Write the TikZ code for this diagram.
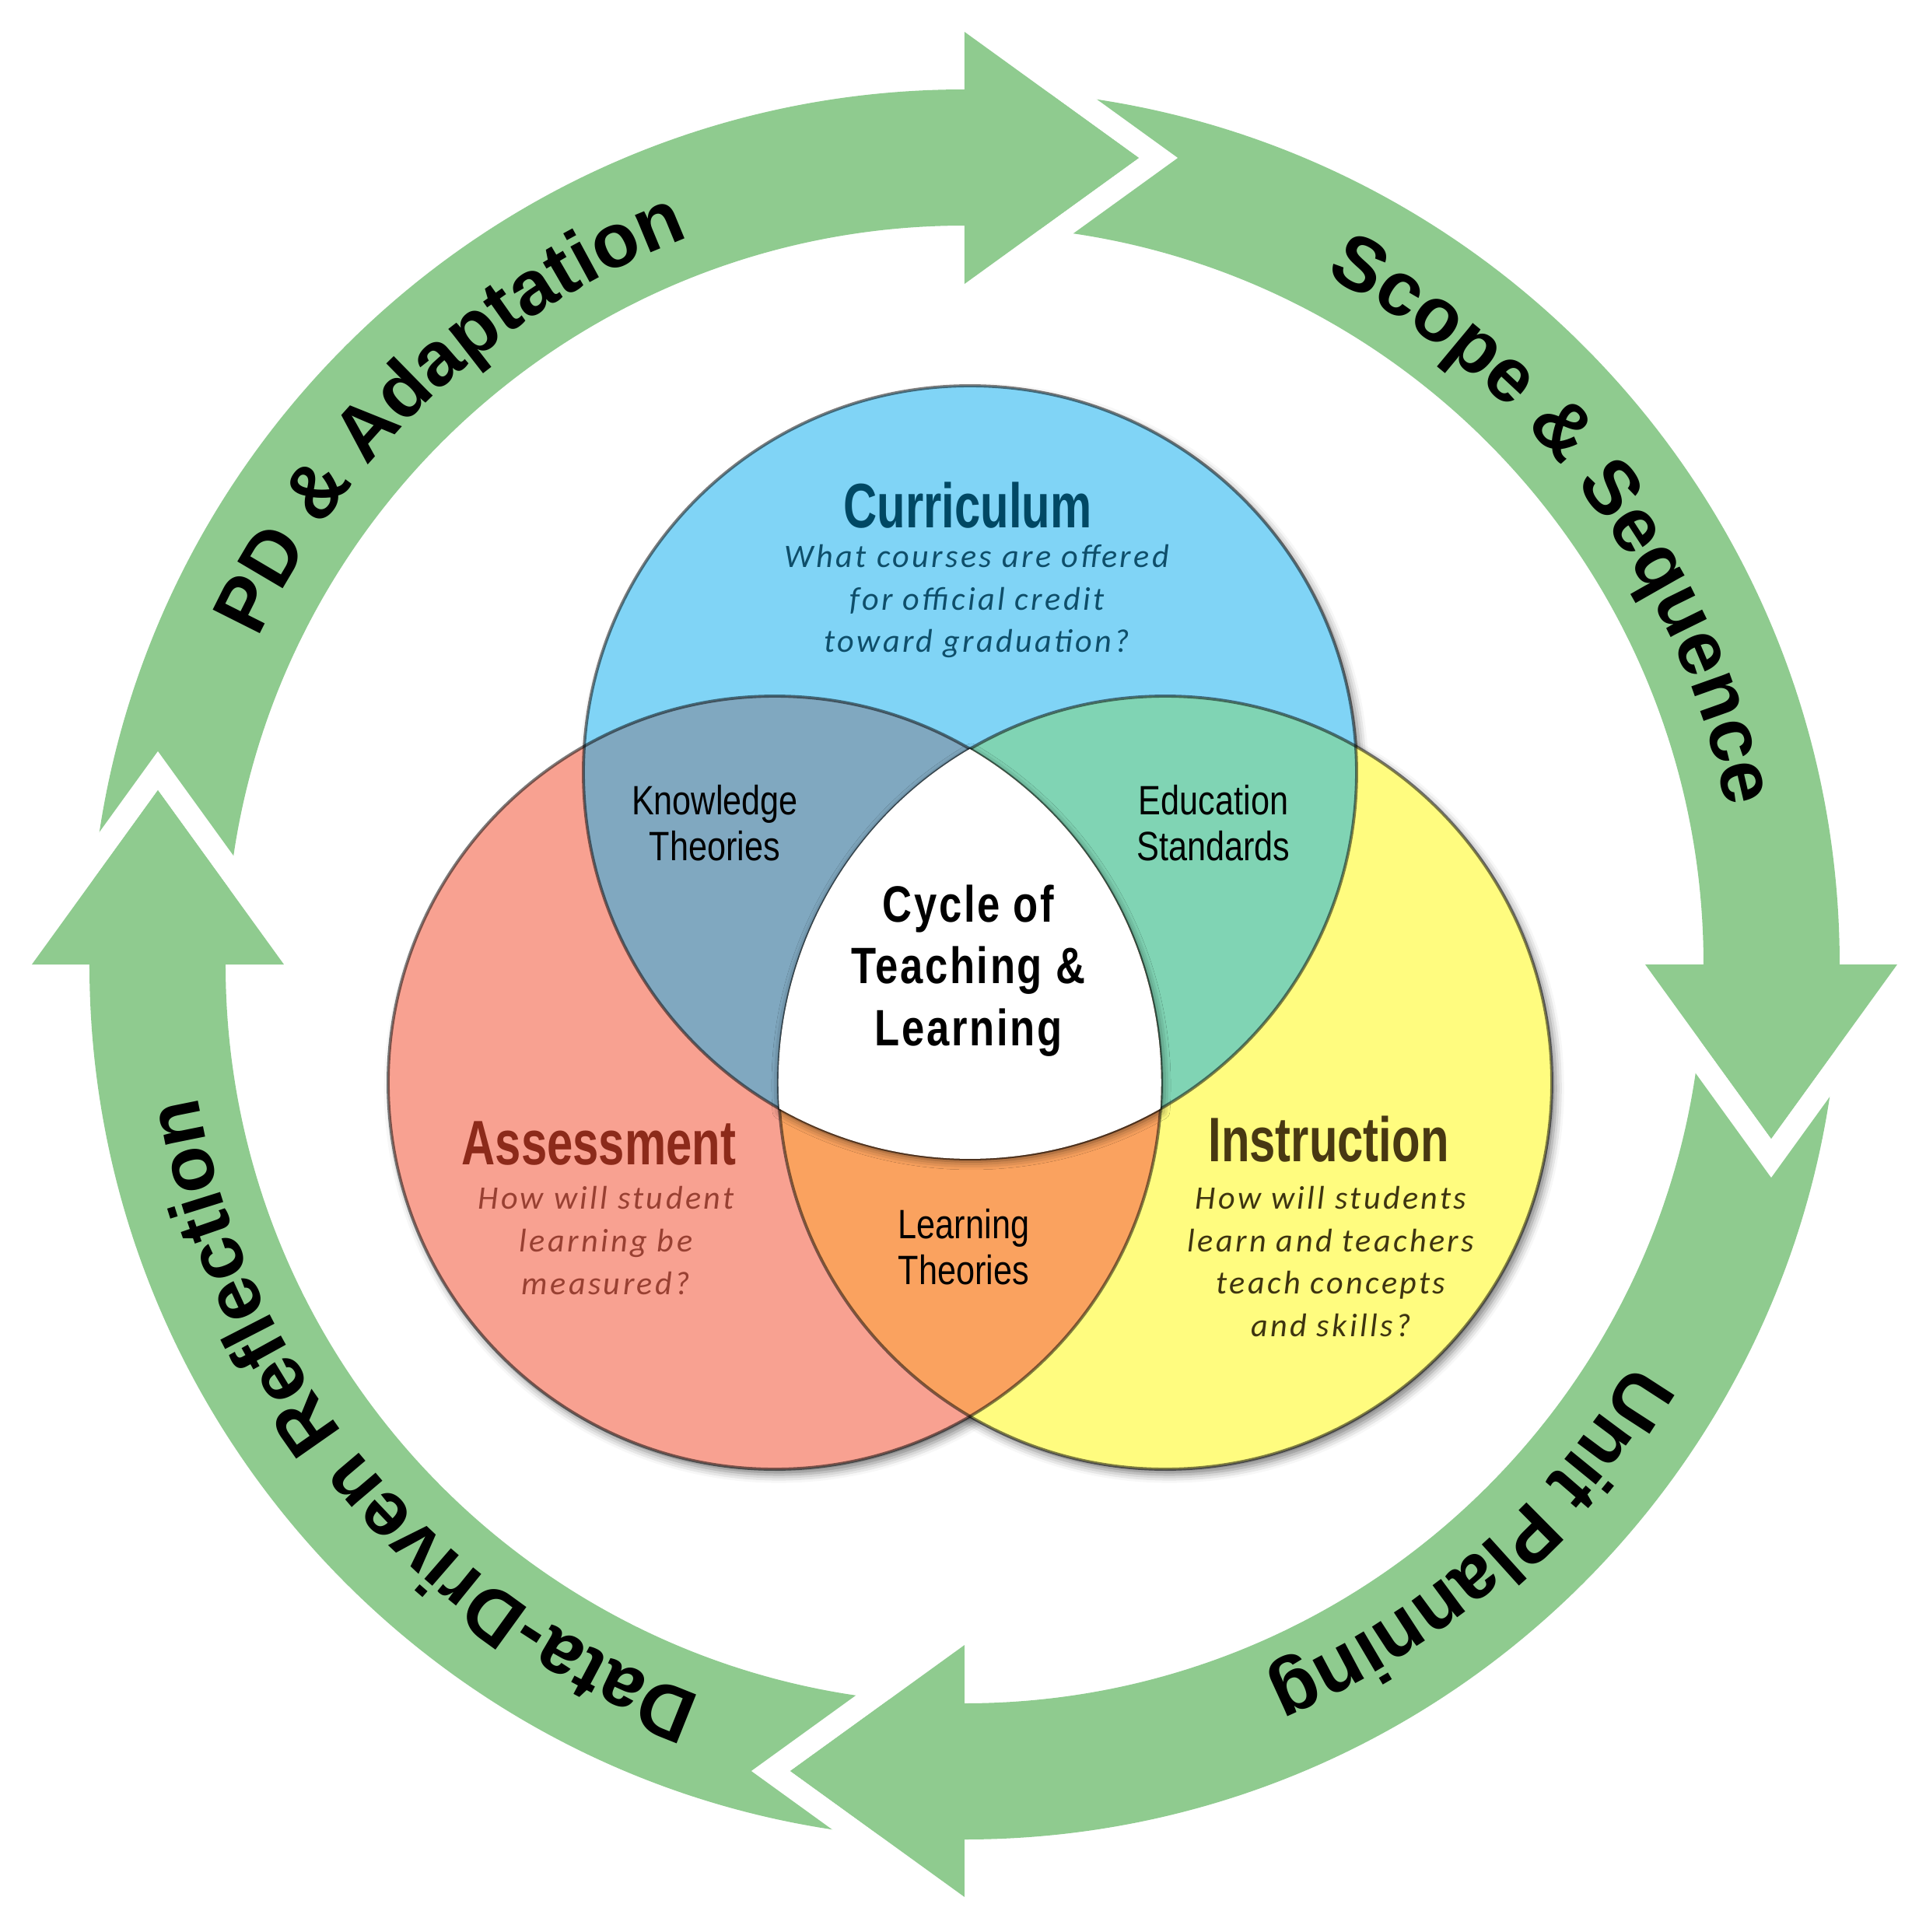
\documentclass[tikz,border=0pt]{standalone}
\usepackage{fontspec}
\setmainfont{Liberation Sans}
\newfontfamily\ringfont{Liberation Sans}
\newfontfamily\condfont{Liberation Sans}[FakeStretch=0.74]
\newfontfamily\narrowfont{Liberation Sans}[FakeStretch=0.82]
\newfontfamily\hubfont{Liberation Sans}[FakeStretch=0.80, LetterSpace=4]
\newfontfamily\questfont{Carlito}[LetterSpace=8]
\usetikzlibrary{positioning,decorations.text,shadows.blur}

\definecolor{ringGreen}{RGB}{143,203,143}
\definecolor{vennBlue}{RGB}{128,212,246}
\definecolor{vennRed}{RGB}{248,161,145}
\definecolor{vennYellow}{RGB}{255,252,127}
\definecolor{vennBR}{RGB}{128,168,192}
\definecolor{vennBY}{RGB}{128,212,180}
\definecolor{vennRY}{RGB}{250,162,95}
\definecolor{currText}{RGB}{0,72,100}
\definecolor{currQ}{RGB}{14,78,106}
\definecolor{assessText}{RGB}{140,42,26}
\definecolor{assessQ}{RGB}{152,64,50}
\definecolor{instrText}{RGB}{72,56,18}
\definecolor{instrQ}{RGB}{62,52,16}

\newcommand{\ringtext}{\ringfont\bfseries\fontsize{28}{33}\selectfont}

\begin{document}
\begin{tikzpicture}[
    ring/.style={fill=ringGreen},
    gap/.style={fill=white},
    vline/.style={draw=black, draw opacity=.5, line width=1.1pt},
    vshadow/.style={blur shadow={shadow xshift=1.5pt, shadow yshift=-2pt,
                    shadow blur radius=3pt, shadow opacity=50}},
    title/.style={font=\condfont\bfseries\fontsize{23}{26}\selectfont, text=#1, inner sep=0pt},
    quest/.style={font=\questfont\itshape\fontsize{12}{15.6}\selectfont, text=#1,
                  align=center, inner sep=0pt},
    overlap/.style={font=\narrowfont\fontsize{15}{16.8}\selectfont, align=center, inner sep=0pt},
    hub/.style={font=\hubfont\bfseries\fontsize{18.7}{22.7}\selectfont, align=center, inner sep=0pt},
    ringlabel/.style={decorate, decoration={text along path, text align=center,
                      text={|\ringtext|#1}}},
]
\useasboundingbox (-12.40,-12.44) rectangle (12.36,12.40);

% ring: one arrow body per quarter, head at angle \h
\foreach \h in {90,0,-90,180}{
  \begin{scope}[rotate=\h-90]
    \fill[ring] (180:11.25) arc[start angle=180, end angle=90, radius=11.25]
      -- (90:9.5) arc[start angle=90, end angle=180, radius=9.5] -- cycle;
  \end{scope}
}
% white notch, then the head on top
\foreach \h in {90,0,-90,180}{
  \begin{scope}[rotate=\h-90]
    \fill[gap] (0,11.99) -- (2.24,10.37) -- (0,8.75) -- (0.5,8.75) -- (2.74,10.37) -- (0.5,11.99) -- cycle;
    \fill[ring] (0,11.99) -- (2.24,10.37) -- (0,8.75) -- cycle;
  \end{scope}
}

% ring labels, clockwise
\path[ringlabel={PD {\&} Adaptation}] (173:10) arc[start angle=173, end angle=93, radius=10];
\path[ringlabel={Scope {\&} Sequence}] (77:10) arc[start angle=77, end angle=-3, radius=10];
\path[ringlabel={Unit Planning}] (-9:10) arc[start angle=-9, end angle=-89, radius=10];
\path[ringlabel={Data-Driven Reflection}] (-100:10) arc[start angle=-100, end angle=-180, radius=10];

% venn circles
\coordinate (cb) at (0.07,2.47);
\coordinate (cr) at (-2.44,-1.52);
\coordinate (cy) at (2.58,-1.52);
\foreach \c in {cb,cr,cy}
  \path[vshadow] (\c) circle[radius=4.97];
\fill[vennBlue] (cb) circle[radius=4.97];
\fill[vennRed] (cr) circle[radius=4.97];
\fill[vennYellow] (cy) circle[radius=4.97];
% pairwise overlaps
\begin{scope}
  \clip (cb) circle[radius=4.97];
  \fill[vennBR] (cr) circle[radius=4.97];
  \fill[vennBY] (cy) circle[radius=4.97];
\end{scope}
\begin{scope}
  \clip (cr) circle[radius=4.97];
  \fill[vennRY] (cy) circle[radius=4.97];
\end{scope}
\foreach \c in {cb,cr,cy}
  \draw[vline] (\c) circle[radius=4.97];

% white middle, three arcs
\fill[white, blur shadow={shadow xshift=0.5pt, shadow yshift=-1pt, shadow blur radius=3pt, shadow opacity=55}]
  (-2.378,-1.855) arc[start angle=-119.5, end angle=-60.5, radius=4.97]
  arc[start angle=-3.87, end angle=59.67, radius=4.97]
  arc[start angle=120.33, end angle=183.87, radius=4.97] -- cycle;

% texts
\node[title=currText] (curr) at (0.04,5.90) {Curriculum};
\node[quest=currQ] (currq) at (0.16,4.67) {What courses are offered\\for official credit\\toward graduation?};
\node[title=assessText] (assess) at (-4.70,-2.30) {Assessment};
\node[quest=assessQ] (assessq) at (-4.61,-3.55) {How will student\\learning be\\measured?};
\node[title=instrText] (instr) at (4.68,-2.25) {Instruction};
\node[quest=instrQ] (instrq) at (4.71,-3.82) {How will students\\learn and teachers\\teach concepts\\and skills?};
\node[overlap] (know) at (-3.21,1.82) {Knowledge\\Theories};
\node[overlap] (edu) at (3.20,1.82) {Education\\Standards};
\node[overlap] (learn) at (-0.01,-3.63) {Learning\\Theories};
\node[hub] (cycle) at (0.05,-0.08) {Cycle of\\Teaching \&\\Learning};
\end{tikzpicture}
\end{document}
